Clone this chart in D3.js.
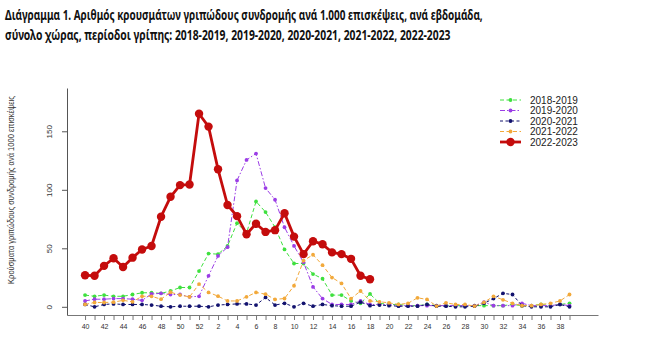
<!DOCTYPE html>
<html><head><meta charset="utf-8">
<script src="https://cdn.jsdelivr.net/npm/d3@7"></script>
<style>body{margin:0;background:#fff}</style>
</head><body>
<script>
const weeks = [40,41,42,43,44,45,46,47,48,49,50,51,52,1,2,3,4,5,6,7,8,9,10,11,12,13,14,15,16,17,18,19,20,21,22,23,24,25,26,27,28,29,30,31,32,33,34,35,36,37,38,39];
const seriesNames = ["2018-2019","2019-2020","2020-2021","2021-2022","2022-2023"];
const s2018 = [10,9,10,9,9,10.5,12,12,11.5,13.5,16.5,16.5,30.5, 45.5,45,52,71.5,63,90,81,68,49,37,37,28,24,10,10,5,3,11, 3,2,2,1,1,2,1,1,1,1,1,1,1,1,2,1,1,2,1,2,3];
const s2019 = [5,6.5,6.5,7,7,6.5,5.5,11,11.5,10.5,10.5,8.5,9, 26.5,43.5,51,108,125.5,131,101.5,91.5,68,52,38,17,7,2,2,2,5,2, 2,2,1,1,1,1,1,1,1,1,1,4,1,1,1,3,1,1,1,2,1];
const s2020 = [2,0,2,2.5,2,2,2,1.5,0.5,0,0.5,0.5,0.5, 0,1.5,2,2.5,2.5,1.5,8,1.5,3,0,3,0.5,2,1,0.5,0.5,4,1, 1.5,1,0.5,0.5,0.5,2,0.5,0.5,0,0,0.5,3,7,11.5,10.5,1,0,0,0,2,0];
const s2021 = [2,3.7,3.7,4,5.5,4.3,9,9,6.5,12.5,10,8.5,19.4, 12.3,9.1,5,5,8.5,12.3,10.8,6.3,7.1,18,39.5,44.5,35.6,25,20,7,13.5,5, 4.3,3.4,2,3,7.7,6.3,0.6,3.4,2,2,0.6,3.8,9,6,3,1,1,2,3,5,10.5];
const s2022 = [27,26.5,35,41.5,34,42,49,52,77,94,104,104.5,165, 154,117.5,87,77.5,62,71,64,65.5,80,60,45,56,53.5,46.5,45,41,26.5,23.5];
const yTicks = [0,50,100,150];
const titleLines = ["Διάγραμμα 1. Αριθμός κρουσμάτων γριπώδους συνδρομής ανά 1.000 επισκέψεις, ανά εβδομάδα,",
                    "σύνολο χώρας, περίοδοι γρίπης: 2018-2019, 2019-2020, 2020-2021, 2021-2022, 2022-2023"];
const yTitle = "Κρούσματα γριπώδους συνδρομής ανά 1000 επισκέψεις";

const styles = [
  {color:"#3ee03e", dash:"4,2.5", w:1, r:1.9},
  {color:"#9b3de6", dash:"5,2,1.5,2", w:1, r:1.9},
  {color:"#12126e", dash:"3,2.5", w:1, r:1.9},
  {color:"#f2a93b", dash:"4,2.5", w:1, r:1.9},
  {color:"#c40c0c", dash:null, w:2.8, r:4.2}
];
const allSeries = [s2018,s2019,s2020,s2021,s2022];

const svg = d3.select("body").append("svg").attr("width",650).attr("height",345);

// title (condensed horizontally to match the narrow original face)
const titleTargets = [478, 446];
titleLines.forEach((t,i)=>{
  const g = svg.append("g").attr("transform",`translate(5,${20+i*20})`);
  const tx = g.append("text")
    .attr("x",0).attr("y",0)
    .attr("font-family","'Noto Sans', 'Open Sans', sans-serif")
    .attr("font-weight","bold").attr("font-size",14)
    .attr("fill","#111")
    .text(t);
  const w = tx.node().getComputedTextLength();
  g.attr("transform",`translate(5,${20+i*20}) scale(${titleTargets[i]/w},1)`);
});

const x = d3.scaleLinear().domain([-1.9,54]).range([67,598]);
const y = d3.scaleLinear().domain([-7,187]).range([315,88]);

// axes
const xAxis = d3.axisBottom(x).tickValues(d3.range(weeks.length)).tickSize(5).tickSizeOuter(0)
  .tickFormat(i => weeks[i]%2===0 ? weeks[i] : "");
const gx = svg.append("g").attr("transform","translate(0,315)").call(xAxis);
gx.selectAll("path,line").attr("stroke","#777");
gx.selectAll("text").attr("font-family","'Liberation Sans', Arial, sans-serif").attr("font-size",7).attr("fill","#333").attr("dy","0.9em");

const yAxis = d3.axisLeft(y).tickValues(yTicks).tickSize(5).tickSizeOuter(0);
const gy = svg.append("g").attr("transform","translate(67,0)").call(yAxis);
gy.selectAll("path,line").attr("stroke","#555");
gy.selectAll("text")
  .attr("font-family","'Liberation Sans', Arial, sans-serif").attr("font-size",8).attr("fill","#333")
  .attr("x",-18).attr("y",0).attr("dy","0.35em").attr("text-anchor","middle")
  .attr("transform","rotate(-90,-18,0)");

const yt = svg.append("text")
  .attr("text-anchor","middle")
  .attr("font-family","'Liberation Sans', Arial, sans-serif").attr("font-size",9.5).attr("fill","#333")
  .text(yTitle);
const ytw = yt.node().getComputedTextLength();
yt.attr("transform",`translate(14,190) rotate(-90) scale(${188/ytw},1)`);

// series
const line = d3.line().x((d,i)=>x(i)).y(d=>y(d));
allSeries.forEach((s,k)=>{
  const st = styles[k];
  const g = svg.append("g");
  g.append("path").datum(s).attr("d",line).attr("fill","none")
    .attr("stroke",st.color).attr("stroke-width",st.w)
    .attr("stroke-dasharray",st.dash).attr("stroke-linejoin","round");
  g.selectAll("circle").data(s).join("circle")
    .attr("cx",(d,i)=>x(i)).attr("cy",d=>y(d)).attr("r",st.r).attr("fill",st.color);
});

// legend
const lg = svg.append("g");
seriesNames.forEach((n,k)=>{
  const st = styles[k];
  const yy = 100 + k*10.5;
  lg.append("line").attr("x1",500).attr("x2",521).attr("y1",yy).attr("y2",yy)
    .attr("stroke",st.color).attr("stroke-width",st.w).attr("stroke-dasharray",st.dash);
  lg.append("circle").attr("cx",510.5).attr("cy",yy).attr("r",st.r).attr("fill",st.color);
  lg.append("text").attr("x",530).attr("y",yy).attr("dy","0.35em")
    .attr("font-family","'Liberation Sans', Arial, sans-serif").attr("font-size",10).attr("fill","#222")
    .text(n);
});
</script>
</body></html>
